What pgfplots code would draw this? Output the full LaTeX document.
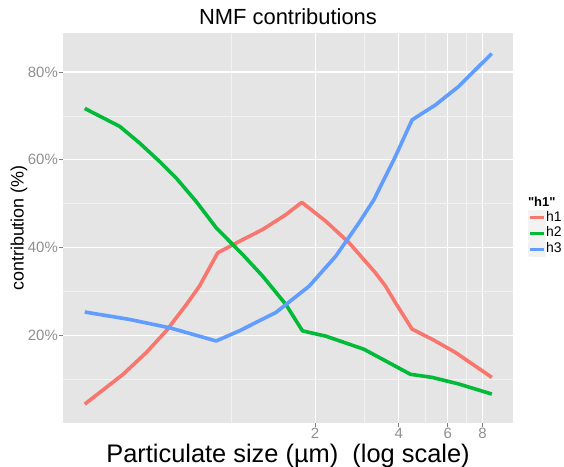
\documentclass[border=0pt]{standalone}
\usepackage{fontspec}
\setmainfont{Liberation Sans}
\usepackage{pgfplots}
\pgfplotsset{compat=1.18}
\definecolor{panelbg}{HTML}{E5E5E5}
\definecolor{minorgrid}{HTML}{F2F2F2}
\definecolor{ticklab}{HTML}{8F8F8F}
\definecolor{tickcol}{HTML}{7F7F7F}
\definecolor{cA}{HTML}{F8766D}
\definecolor{cB}{HTML}{00BA38}
\definecolor{cC}{HTML}{619CFF}
\begin{document}
\begin{tikzpicture}
\path[use as bounding box] (-63bp,-44bp) rectangle (501bp,423bp);
\begin{axis}[
  name=ax, clip=false,
  scale only axis, width=450bp, height=390bp,
  xmode=log, log basis x=10,
  xmin=0.248, xmax=10.3, ymin=0, ymax=88.9,
  axis background/.style={fill=panelbg},
  axis line style={draw=none},
  xtick={2,4,6,8}, xticklabels={2,4,6,8},
  minor xtick={1,3,5,7},
  ytick={20,40,60,80}, yticklabels={20\%,40\%,60\%,80\%},
  minor ytick={10,30,50,70},
  grid=both,
  major grid style={draw=white, line width=1.1bp},
  minor grid style={draw=minorgrid, line width=0.6bp},
  tick align=outside, tick pos=left,
  major tick length=4bp, minor tick length=0bp,
  major tick style={draw=tickcol, line width=0.8bp},
  /pgf/number format/assume math mode=true,
  ticklabel style={font=\fontsize{15}{15}\selectfont, text=ticklab},
  yticklabel style={anchor=east, inner sep=0pt, xshift=-1bp},
  xticklabel style={anchor=north, inner sep=0pt, yshift=-0.5bp, text height=11bp, text depth=0pt},
  title={NMF contributions},
  title style={at={(0.5,1)}, anchor=base, yshift=3bp, font=\fontsize{22}{22}\selectfont, inner sep=0pt},
  xlabel={Particulate size (µm)\ \ (log scale)},
  xlabel style={at={(0.5,0)}, anchor=base, yshift=-39bp, font=\fontsize{25.5}{25.5}\selectfont, inner sep=0pt},
  ylabel={contribution (\%)},
  ylabel style={at={(0,0.5)}, anchor=center, yshift=44bp, font=\fontsize{18}{18}\selectfont, inner sep=0pt},
  legend style={draw=none, fill=none, at={(rel axis cs:1.033,0.486)}, anchor=west, inner sep=0pt,
    font=\fontsize{14}{14}\selectfont,
    nodes={inner sep=0.5bp, text height=9.5bp, text depth=3bp},
    /tikz/every even column/.append style={column sep=2bp}},
  legend cell align=left,
  legend image code/.code={\fill[minorgrid] (0bp,-6bp) rectangle (14bp,6bp);
     \draw[#1, line width=3bp] (0bp,0bp) -- (14bp,0bp);},
  every axis plot/.append style={line width=3.6bp, line join=round},
]
\addplot[cA] coordinates {
(0.297,4.3) (0.408,11.1) (0.495,16.1) (0.583,21.0) (0.689,27.0) (0.768,31.2)
(0.893,38.8) (1.068,41.4) (1.295,44.1) (1.571,47.5) (1.792,50.3) (2.185,46.0)
(2.649,41.1) (3.301,34.2) (3.584,31.2) (3.893,27.4) (4.465,21.4) (5.269,19.1)
(6.387,16.1) (8.643,10.4)};
\addlegendentry{h1}
\addplot[cB] coordinates {
(0.297,71.7) (0.397,67.6) (0.468,63.8) (0.552,59.6) (0.634,55.8) (0.747,50.5)
(0.882,44.5) (1.098,38.4) (1.295,33.5) (1.571,27.0) (1.802,21.0) (2.185,19.8)
(3.0,16.8) (4.406,11.1) (5.269,10.4) (6.564,8.9) (8.643,6.6)};
\addlegendentry{h2}
\addplot[cC] coordinates {
(0.297,25.3) (0.431,23.6) (0.600,21.7) (0.882,18.7) (1.068,21.0) (1.446,25.2)
(1.905,31.2) (2.372,38.0) (2.875,45.6) (3.256,50.9) (3.893,60.8) (4.465,69.1)
(5.418,72.5) (6.564,76.7) (7.738,81.2) (8.643,84.2)};
\addlegendentry{h3}
\node[anchor=west, inner sep=0pt, font=\fontsize{13}{13}\selectfont\bfseries] at (rel axis cs:1.033,0.567) {\textquotedbl h1\textquotedbl};
\end{axis}
\end{tikzpicture}
\end{document}
